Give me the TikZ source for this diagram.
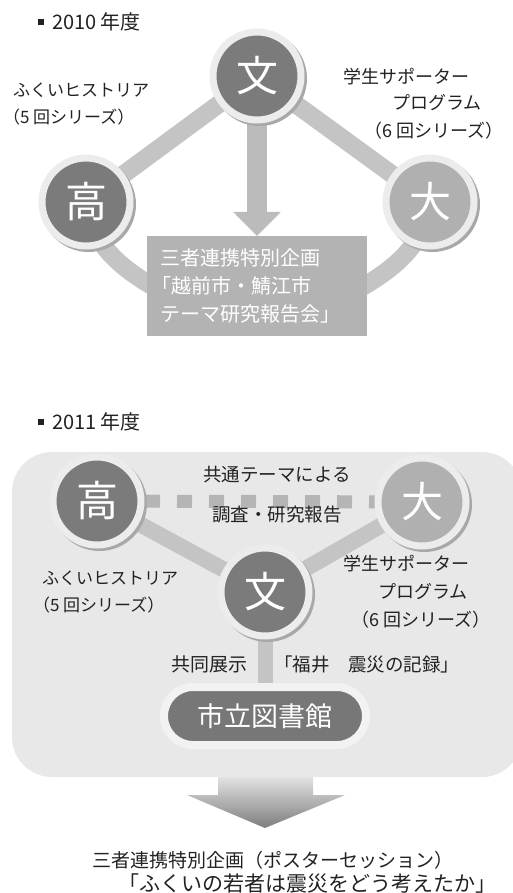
\documentclass[tikz,border=0pt]{standalone}
\usepackage{fontspec}
\setmainfont{Noto Sans CJK JP}
\usetikzlibrary{arrows.meta,backgrounds}
\definecolor{cband}{HTML}{C4C4C4}
\definecolor{carrow}{HTML}{BBBBBB}
\definecolor{cdark}{HTML}{7B7B7B}
\definecolor{clight}{HTML}{B0B0B0}
\definecolor{cring}{HTML}{ECECEC}
\definecolor{cshadow}{HTML}{A8A8A8}
\definecolor{cbox}{HTML}{B3B3B3}
\definecolor{cpanel}{HTML}{E8E8E8}
\definecolor{clib}{HTML}{777777}
\definecolor{clring}{HTML}{F2F2F2}
\definecolor{cdash}{HTML}{B5B5B5}
\definecolor{ctext}{HTML}{222222}
\definecolor{cgtop}{HTML}{E2E2E2}
\definecolor{cgbot}{HTML}{7D7D7D}
\newcommand{\myfs}[1]{\fontsize{#1pt}{#1pt}\selectfont}
\begin{document}
\begin{tikzpicture}[x=1pt,y=-1pt,
  every node/.style={inner sep=0pt, outer sep=0pt, text=ctext},
  disc/.style={circle, minimum size=88pt, line width=7pt, draw=cring, text=white, font=\myfs{42},
     preaction={draw=cshadow, fill=cshadow, line width=7pt, transform canvas={shift={(2.5pt,-2.5pt)}}}},
  darkdisc/.style={disc, fill=cdark},
  lightdisc/.style={disc, fill=clight},
  band/.style={line width=18pt, draw=cband},
  lbl/.style={anchor=west, font=\myfs{17}},
  rlbl/.style={anchor=west, font=\myfs{18}},
  heading/.style={anchor=west, font=\myfs{20}},
  planbox/.style={rectangle, fill=cbox, minimum width=220pt, minimum height=100pt, text width=194pt, align=left, text=white, font=\fontsize{20pt}{28pt}\selectfont},
  libbox/.style={rectangle, rounded corners=29pt, minimum width=202pt, minimum height=58pt, fill=clib, draw=clring, line width=8pt, text=white, font=\myfs{27}},
]
\useasboundingbox (0,0) rectangle (513,893);
\begin{scope}[on background layer]
  \fill[cpanel, rounded corners=40pt] (12,452) rectangle (522,777);
\end{scope}

% ---------- 2010 ----------
\fill[ctext] (38,19) rectangle (44,25);
\node[heading] (h1) at (52,22) {2010 年度};
\node[darkdisc] (bun1) at (257,76) {文};
\node[darkdisc] (kou1) at (86,202) {高};
\node[lightdisc] (dai1) at (430,202) {大};
\node[planbox] (box1) at (257,286) {三者連携特別企画\\\hspace*{-0.45em}「越前市・鯖江市\\テーマ研究報告会」};
\begin{scope}[on background layer]
  \draw[band] (bun1.center) -- (kou1.center);
  \draw[band] (bun1.center) -- (dai1.center);
  \draw[band] (kou1.center) .. controls (92,245) and (120,275) .. (200,310);
  \draw[band] (dai1.center) .. controls (424,245) and (396,275) .. (316,310);
  \draw[line width=20pt, draw=carrow, -{Triangle[width=46pt,length=24pt]}] (bun1.center) -- (box1.north);
\end{scope}
\node[lbl] (l1a) at (13,90) {ふくいヒストリア};
\node[lbl] (l1b) at (3,117) {（5 回シリーズ）};
\node[rlbl] (r1a) at (343,77) {学生サポーター};
\node[rlbl] (r1b) at (392,103) {プログラム};
\node[rlbl] (r1c) at (364,131) {（6 回シリーズ）};

% ---------- 2011 ----------
\fill[ctext] (38,419) rectangle (44,425);
\node[heading] (h2) at (52,422) {2011 年度};
\node[darkdisc] (kou2) at (97,501) {高};
\node[lightdisc] (dai2) at (422,502) {大};
\node[darkdisc] (bun2) at (265,592) {文};
\node[libbox] (lib) at (265,716) {市立図書館};
\begin{scope}[on background layer]
  \draw[line width=13pt, draw=cdash, dash pattern=on 15pt off 17pt, dash phase=16pt] (kou2.center) -- (dai2.center);
  \draw[line width=16pt, draw=cband] (kou2.center) -- (bun2.center);
  \draw[line width=16pt, draw=cband] (dai2.center) -- (bun2.center);
  \draw[line width=15pt, draw=cband] (bun2.center) -- (lib.center);
\end{scope}
\node[font=\myfs{18.5}] (t1) at (277,475) {共通テーマによる};
\node[font=\myfs{18.5}] (t2) at (277,515) {調査・研究報告};
\node[lbl] (l2a) at (42,578) {ふくいヒストリア};
\node[lbl] (l2b) at (33,605) {（5 回シリーズ）};
\node[rlbl] (r2a) at (343,564) {学生サポーター};
\node[rlbl] (r2b) at (378,592) {プログラム};
\node[rlbl] (r2c) at (351,620) {（6 回シリーズ）};
\node[anchor=east, font=\myfs{19}] (kyodo) at (247,664) {共同展示};
\node[anchor=west, font=\myfs{18.5}] (fukui) at (274,664) {「福井　震災の記録」};

% gradient arrow
\shade[top color=cgtop, bottom color=cgbot] (218,777) -- (313,777) -- (313,795) -- (345,795) -- (265,828) -- (187,795) -- (218,795) -- cycle;
\node[anchor=west, font=\myfs{19}] (b1) at (92,860) {三者連携特別企画（ポスターセッション）};
\node[anchor=west, font=\myfs{21}] (b2) at (118,884) {「ふくいの若者は震災をどう考えたか」};
\end{tikzpicture}
\end{document}
